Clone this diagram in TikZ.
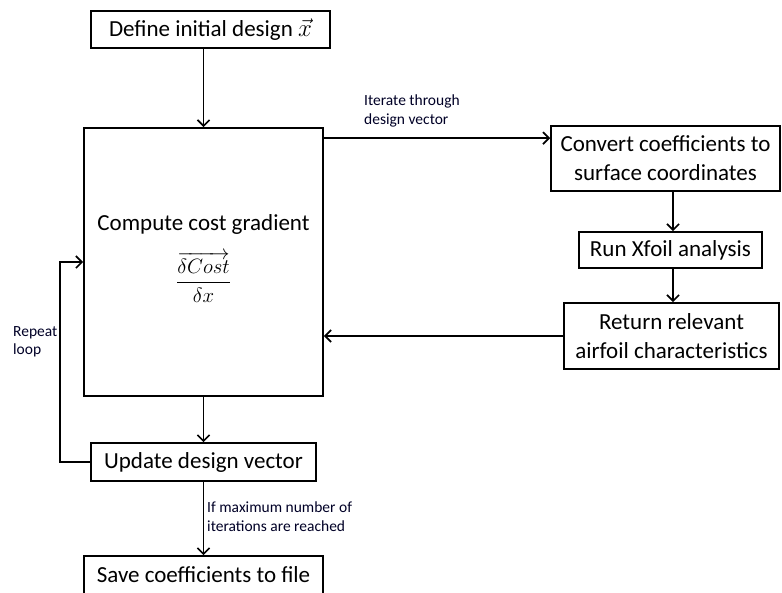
\documentclass[tikz,border=0pt]{standalone}
\usepackage{fontspec}
\setmainfont{Carlito}
\usepackage{amsmath}
\usetikzlibrary{arrows.meta}
\begin{document}
\begin{tikzpicture}[x=1pt,y=-1pt,
  box/.style={draw,line width=1.7pt,inner sep=0pt,align=center,
    font=\fontsize{23}{29}\selectfont,text=black},
  plain/.style={inner sep=0pt,anchor=base,font=\fontsize{23}{29}\selectfont,text=black},
  lab/.style={inner sep=0pt,anchor=north west,align=left,
    font=\fontsize{15.5}{18.5}\selectfont,text=black!85!blue},
  arr/.style={line width=1.7pt,-{Straight Barb[length=6pt,width=12pt,line width=1.7pt]}}]
\useasboundingbox (0,0) rectangle (782,592);

\node[box,minimum width=239pt,minimum height=37pt] (init) at (210.5,29.5) {Define initial design $\vec{x}$};
\node[box,minimum width=239pt,minimum height=268pt] (main) at (203.5,262) {};
\node[plain] (gradtxt) at (203.5,230) {Compute cost gradient};
\node[plain,font=\fontsize{22.5}{27}\selectfont] (gradfrac) at (203.5,288)
  {$\dfrac{\overrightarrow{\delta Cost}}{\delta x}$};
\node[box,minimum width=229pt,minimum height=65pt] (conv) at (665.5,158.5) {Convert coefficients to\\surface coordinates};
\node[box,minimum width=183pt,minimum height=36pt] (run) at (670.5,250) {Run Xfoil analysis};
\node[box,minimum width=215pt,minimum height=66pt] (ret) at (671.5,336) {Return relevant\\airfoil characteristics};
\node[box,minimum width=225pt,minimum height=38pt] (upd) at (203.5,462) {Update design vector};
\node[box,minimum width=239pt,minimum height=38pt] (save) at (203.5,575) {Save coefficients to file};

\node[lab] (itlab) at (364,95) {Iterate through\\design vector};
\node[lab] (replab) at (13,326) {Repeat\\loop};
\node[lab] (maxlab) at (207,502) {If maximum number of\\iterations are reached};

\coordinate (tapout) at ([yshift=-11pt]main.north east);
\coordinate (xa) at (673,0);

\draw[arr] (init.south -| main.north) -- (main.north);
\draw[arr] (tapout) -- (tapout -| conv.west);
\draw[arr] (conv.south -| xa) -- (run.north -| xa);
\draw[arr] (run.south -| xa) -- (ret.north -| xa);
\draw[arr] (ret.west) -- (ret.west -| main.east);
\draw[arr] (main.south) -- (upd.north);
\draw[arr] (upd.south) -- (save.north);
\draw[arr] (upd.west) -- ++(-30,0) |- (main.west);
\end{tikzpicture}
\end{document}
